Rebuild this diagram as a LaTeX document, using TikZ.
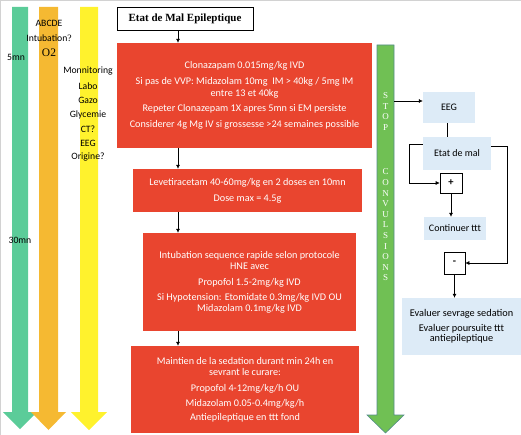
\documentclass[tikz,border=0pt]{standalone}
\usepackage{fontspec}
\setmainfont{Carlito}
\newfontfamily\tnr{Liberation Serif}
\usetikzlibrary{arrows.meta,calc}
\definecolor{redc}{RGB}{233,69,47}
\definecolor{lblue}{RGB}{221,235,247}
\definecolor{mint}{RGB}{91,204,153}
\definecolor{orng}{RGB}{245,185,50}
\definecolor{yell}{RGB}{255,242,45}
\definecolor{stopg}{RGB}{112,192,84}
\definecolor{stopb}{RGB}{84,140,140}
\begin{document}
\begin{tikzpicture}[x=1pt,y=-1pt,
  redbox/.style={fill=redc,text=white,align=center,inner sep=0pt,font=\fontsize{10.2}{12}\selectfont},
  bluebox/.style={fill=lblue,align=center,inner sep=0pt,font=\fontsize{10}{11.5}\selectfont},
  signbox/.style={draw=black,fill=white,line width=0.6pt,inner sep=0pt,font=\bfseries\fontsize{10.5}{11}\selectfont},
  lbl/.style={inner sep=0pt,font=\fontsize{9.7}{11}\selectfont},
  stopl/.style={inner sep=0pt,text=white,font=\tnr\fontsize{9}{9}\selectfont},
  conn/.style={line width=0.6pt,-{Latex[length=4pt,width=4pt]}},
  plain/.style={line width=0.6pt}]
\useasboundingbox (0,0) rectangle (521,435);
\draw[gray!35,line width=0.8pt] (0.5,435) -- (0.5,0.5) -- (521,0.5);

% left timeline arrows
\fill[mint] (12,7) -- (28,7) -- (28,412) -- (37,412) -- (20,429) -- (3,412) -- (12,412) -- cycle;
\fill[orng] (39,7) -- (58,7) -- (58,412) -- (66,412) -- (48.5,430) -- (31,412) -- (39,412) -- cycle;
\fill[yell] (80,7) -- (98,7) -- (98,412) -- (107,412) -- (89,430) -- (71,412) -- (80,412) -- cycle;

\node[lbl] (t5) at (16,57) {5mn};
\node[lbl] (t30) at (20,240) {30mn};
\node[lbl] (abc) at (49,23) {ABCDE};
\node[lbl] (intub) at (49,38) {Intubation{\tnr ?}};
\node[lbl,font=\tnr\fontsize{11.5}{12}\selectfont] (o2) at (49,53) {O2};
\node[lbl] (mon) at (88,71) {Monnitoring};
\node[lbl] (labo) at (88,86) {Labo};
\node[lbl] (gazo) at (88,100) {Gazo};
\node[lbl] (gly) at (88,115) {Glycemie};
\node[lbl] (ct) at (88,129) {CT?};
\node[lbl] (eegl) at (88,143) {EEG};
\node[lbl] (orig) at (88,157) {Origine?};

% title
\node[draw=black,line width=0.7pt,minimum width=136,minimum height=23,inner sep=0pt,
  font=\tnr\bfseries\fontsize{11}{12}\selectfont] (title) at (185,18.5) {Etat de Mal Epileptique};

% red boxes
\node[redbox,minimum width=255,minimum height=105] (b1) at (244.5,95.5)
 {Clonazapam 0.015mg/kg IVD\\[3.5pt]
  Si pas de VVP: Midazolam 10mg \ IM > 40kg / 5mg IM\\
  entre 13 et 40kg\\[3.5pt]
  Repeter Clonazepam 1X apres 5mn si EM persiste\\[3.5pt]
  Considerer 4g Mg IV si grossesse >24 semaines possible};
\node[redbox,minimum width=229,minimum height=43] (b2) at (247.5,190.5)
 {Levetiracetam 40-60mg/kg en 2 doses en 10mn\\[4pt]
  Dose max = 4.5g};
\node[redbox,minimum width=213,minimum height=98] (b3) at (249.5,282)
 {Intubation sequence rapide selon protocole\\[-1pt]
  HNE avec\\[4pt]
  Propofol 1.5-2mg/kg IVD\\[3pt]
  Si Hypotension: Etomidate 0.3mg/kg IVD OU\\[-1pt]
  Midazolam 0.1mg/kg IVD};
\node[redbox,minimum width=228,minimum height=87] (b4) at (245,389.5)
 {Maintien de la sedation durant min 24h en\\[-1pt]
  sevrant le curare:\\[4pt]
  Propofol 4-12mg/kg/h OU\\[3pt]
  Midazolam 0.05-0.4mg/kg/h\\[2pt]
  Antiepileptique en ttt fond};

\coordinate (ax) at (178,0);
\draw[conn] (title.south -| ax) -- (b1.north -| ax);
\draw[conn] (b1.south -| ax) -- (b2.north -| ax);
\draw[conn] (b2.south -| ax) -- (b3.north -| ax);
\draw[conn] (b3.south -| ax) -- (b4.north -| ax);

% STOP CONVULSIONS arrow
\draw[stopb,fill=stopg,line width=0.6pt] (377,45) -- (394,45) -- (394,415) -- (404,415) -- (385.5,433) -- (367,415) -- (377,415) -- cycle;
\foreach \l [count=\i] in {S,T,O,P}
  \node[stopl] (s\i) at (385.5,{96+10.5*(\i-1)}) {\l};
\foreach \l [count=\i] in {C,O,N,V,U,L,S,I,O,N,S}
  \node[stopl] (c\i) at (385.5,{172+10.6*(\i-1)}) {\l};
\coordinate (stopr) at (394,101);

% right side
\node[bluebox,minimum width=52,minimum height=31] (eeg) at (449,107.5) {EEG};
\node[bluebox,minimum width=68,minimum height=33] (etat) at (457,153.5) {Etat de mal};
\node[signbox,minimum width=22,minimum height=20] (plus) at (451,183) {+};
\node[bluebox,minimum width=62,minimum height=23] (cont) at (455,228.5) {Continuer ttt};
\node[signbox,minimum width=21,minimum height=22] (minus) at (454.5,263) {-};
\node[bluebox,minimum width=119,minimum height=57,font=\fontsize{10.3}{11.5}\selectfont] (eval) at (461.5,326.5)
 {Evaluer sevrage sedation\\[3pt]
  Evaluer poursuite ttt\\[-1.5pt]
  antiepileptique};

\draw[conn] (stopr) -- (stopr -| eeg.west);
\draw[plain] (eeg.south -| 447,0) -- (etat.north -| 447,0);
\draw[conn] ($(etat.west)+(0,-9)$) -- ++(-14,0) |- (plus.west);
\draw[conn] (plus.south) -- (cont.north -| plus.south);
\draw[conn] ($(etat.east)+(0,-7.5)$) -- (507,146) |- (minus.east);
\draw[conn] (minus.south) -- (eval.north -| minus.south);
\end{tikzpicture}
\end{document}
